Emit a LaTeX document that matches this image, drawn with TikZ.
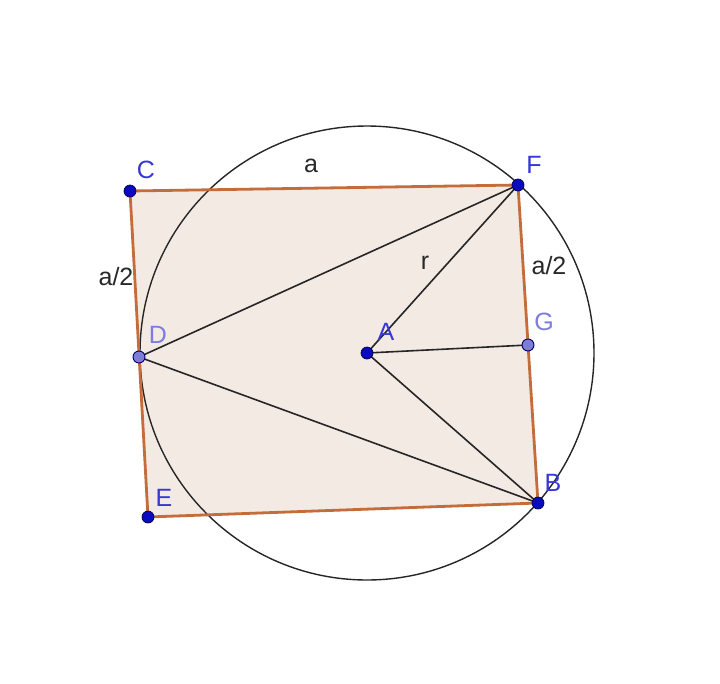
\documentclass[tikz,border=0pt]{standalone}
\usepackage{fontspec}
\setmainfont{Liberation Sans}
\definecolor{polyfill}{RGB}{244,234,228}
\definecolor{polyedge}{RGB}{196,108,58}
\definecolor{ptdark}{RGB}{10,10,190}
\definecolor{ptlight}{RGB}{125,125,215}
\definecolor{lbldark}{RGB}{55,55,215}
\definecolor{lbllight}{RGB}{125,125,225}
\definecolor{txtgray}{RGB}{40,40,40}
\tikzset{
  pt/.style={circle,draw=black!70!blue,fill=ptdark,inner sep=0pt,minimum size=12pt,line width=0.7pt},
  ptl/.style={circle,draw=black!60!blue,fill=ptlight,inner sep=0pt,minimum size=12pt,line width=0.9pt},
  lbl/.style={text=lbldark,font=\fontsize{25}{25}\selectfont,inner sep=0pt},
  lbll/.style={text=lbllight,font=\fontsize{25}{25}\selectfont,inner sep=0pt},
  seglbl/.style={text=txtgray,font=\fontsize{25}{25}\selectfont,inner sep=0pt},
  edge/.style={draw=polyedge,line width=2.8pt},
  seg/.style={draw=black!85,line width=1.6pt},
}
\begin{document}
\begin{tikzpicture}[x=1pt,y=-1pt]
\useasboundingbox[fill=white] (0,0) rectangle (720,683);
\coordinate (c) at (130,191);
\coordinate (f) at (518,185);
\coordinate (b) at (538,503);
\coordinate (e) at (148,517);
\coordinate (d) at (139,357);
\coordinate (a) at (367,353);
\coordinate (g) at (528,345);
% polygon
\fill[polyfill] (c) -- (f) -- (b) -- (e) -- cycle;
% circle
\draw[black!85,line width=1.4pt] (a) circle (227);
% polygon edges
\draw[edge] (c) -- (f) -- (b) -- (e) -- cycle;
% segments
\draw[seg] (f) -- (d) -- (b);
\draw[seg] (f) -- (a) -- (b);
\draw[seg] (a) -- (g);
% points
\node[pt] (C) at (c) {};
\node[pt] (F) at (f) {};
\node[pt] (B) at (b) {};
\node[pt] (E) at (e) {};
\node[pt] (A) at (a) {};
\node[ptl] (D) at (d) {};
\node[ptl] (G) at (g) {};
% labels
\node[lbl] (lC) at (146,170) {C};
\node[lbl] (lF) at (534,165) {F};
\node[lbl] (lB) at (553,483) {B};
\node[lbl] (lE) at (164,498) {E};
\node[lbl] (lA) at (386,332) {A};
\node[lbll] (lD) at (158,335) {D};
\node[lbll] (lG) at (544,322) {G};
\node[seglbl] (la) at (311,166) {a};
\node[seglbl] (lca) at (116,277) {a/2};
\node[seglbl] (lfb) at (549,266) {a/2};
\node[seglbl] (lr) at (425,263) {r};
\end{tikzpicture}
\end{document}
